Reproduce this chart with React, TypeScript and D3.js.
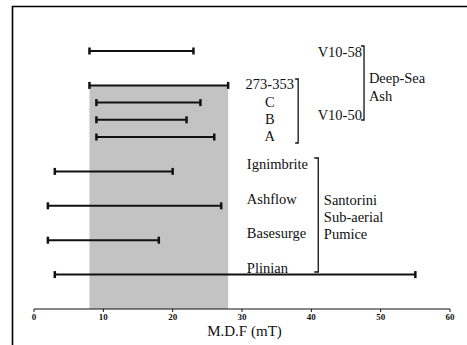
import React from "react";
import * as d3 from "d3";

// Median destructive field ranges (mT) for each sample, top to bottom
const samples = ["V10-58", "273-353", "C", "B", "A", "Ignimbrite", "Ashflow", "Basesurge", "Plinian"];
const rowIndex = [0, 2, 3, 4, 5, 7, 9, 11, 13];
const mdfLow = [8, 8, 9, 9, 9, 3, 2, 2, 3];
const mdfHigh = [23, 28, 24, 22, 26, 20, 27, 18, 55];

// Shaded reference band (mT)
const bandRange = [8, 28];

const xTicks = [0, 10, 20, 30, 40, 50, 60];

const W = 467;
const H = 345;
const serif = "Liberation Serif, Times New Roman, Times, DejaVu Serif, serif";

export default function App() {
  const x = d3.scaleLinear().domain([0, 60]).range([34, 450]);
  const y = d3.scaleLinear().domain([0, 13]).range([51, 274.6]);
  const axisY = 309;
  const cap = 3.5;

  const bars = samples.map((name, i) => ({
    name,
    row: rowIndex[i],
    lo: mdfLow[i],
    hi: mdfHigh[i],
  }));

  const bracket = (bx: number, y0: number, y1: number, hook: number) =>
    `M${bx - hook},${y0}H${bx}V${y1}H${bx - hook}`;

  const txt = { fontFamily: serif, fontSize: 14.5, fill: "#111" } as const;

  return (
    <svg
      width={W}
      height={H}
      style={{ position: "absolute", left: 0, top: 0, background: "#fff" }}
    >
      {/* frame */}
      <path d={`M12.5,${H}V6.5H${W}`} fill="none" stroke="#000" strokeWidth={1.6} />

      {/* reference band */}
      <rect
        x={x(bandRange[0])}
        y={y(2)}
        width={x(bandRange[1]) - x(bandRange[0])}
        height={axisY - y(2)}
        fill="#c3c3c3"
      />

      {/* range bars */}
      {bars.map((b) => {
        const yy = y(b.row);
        return (
          <g key={b.name} stroke="#111" strokeWidth={2}>
            <line x1={x(b.lo)} x2={x(b.hi)} y1={yy} y2={yy} />
            <line x1={x(b.lo)} x2={x(b.lo)} y1={yy - cap} y2={yy + cap} strokeWidth={2.5} />
            <line x1={x(b.hi)} x2={x(b.hi)} y1={yy - cap} y2={yy + cap} strokeWidth={2.5} />
          </g>
        );
      })}

      {/* x axis */}
      <line x1={x(0)} x2={x(60)} y1={axisY} y2={axisY} stroke="#111" strokeWidth={1.2} />
      {xTicks.map((t) => (
        <g key={t}>
          <line x1={x(t)} x2={x(t)} y1={axisY} y2={axisY + 3} stroke="#111" strokeWidth={1} />
          <text
            x={x(t)}
            y={axisY + 8}
            textAnchor="middle"
            dominantBaseline="central"
            fontFamily={serif}
            fontSize={9}
            fontWeight="bold"
            fill="#111"
          >
            {t}
          </text>
        </g>
      ))}
      <text
        x={244.5}
        y={331}
        textAnchor="middle"
        dominantBaseline="central"
        fontFamily={serif}
        fontSize={15}
        fill="#111"
      >
        M.D.F (mT)
      </text>

      {/* deep-sea ash core labels */}
      <text x={x(47.3)} y={52} textAnchor="end" dominantBaseline="central" {...txt}>
        V10-58
      </text>
      <text x={x(47.3)} y={115} textAnchor="end" dominantBaseline="central" {...txt}>
        V10-50
      </text>
      <path d={bracket(x(47.6), 46, 120, 3)} fill="none" stroke="#111" strokeWidth={1.3} />
      <text x={x(48.3)} y={78} dominantBaseline="central" {...txt}>
        Deep-Sea
      </text>
      <text x={x(48.3)} y={96} dominantBaseline="central" {...txt}>
        Ash
      </text>

      {/* core 273-353 labels */}
      {["273-353", "C", "B", "A"].map((s, i) => (
        <text key={s} x={x(34)} y={y(2 + i) - 1} textAnchor="middle" dominantBaseline="central" {...txt}>
          {s}
        </text>
      ))}
      <path d={bracket(x(38.1), 79, 143, 3)} fill="none" stroke="#111" strokeWidth={1.3} />

      {/* Santorini sub-aerial pumice labels */}
      {["Ignimbrite", "Ashflow", "Basesurge", "Plinian"].map((s, i) => (
        <text key={s} x={x(30.7)} y={y(7 + 2 * i) - 7} dominantBaseline="central" {...txt}>
          {s}
        </text>
      ))}
      <path d={bracket(x(41), 158, 272, 4)} fill="none" stroke="#111" strokeWidth={1.3} />
      {["Santorini", "Sub-aerial", "Pumice"].map((s, i) => (
        <text key={s} x={x(41.8)} y={200 + 17 * i} dominantBaseline="central" {...txt}>
          {s}
        </text>
      ))}
    </svg>
  );
}
